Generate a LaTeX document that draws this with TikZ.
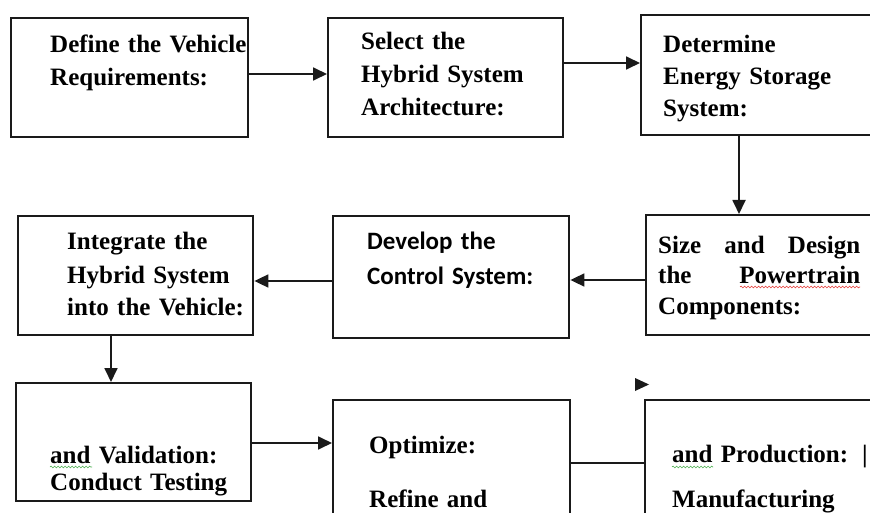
\documentclass[tikz,border=0pt]{standalone}
\usepackage{fontspec}
\setmainfont{Liberation Serif}
\newfontfamily\calibri{Carlito}
\usepackage{tikz}
\usetikzlibrary{arrows.meta, positioning, decorations.pathmorphing}
\definecolor{rahmen}{HTML}{1A1A1A}
\definecolor{wortgruen}{HTML}{4CAF50}
\definecolor{wortrot}{HTML}{E53935}

\begin{document}
\begin{tikzpicture}[x=1pt, y=-1pt,
    kasten/.style={draw=rahmen, line width=2.4pt, inner sep=0pt, anchor=north west},
    lbl/.style={anchor=base west, inner sep=0pt, text width=240pt, align=left,
                font=\fontsize{25}{#1}\selectfont\bfseries},
    lbl/.default=33,
    pfeil/.style={draw=rahmen, line width=1.8pt, -{Triangle[length=14pt, width=13pt]}},
    linie/.style={draw=rahmen, line width=1.8pt},
    welle/.style={draw=#1, line width=0.6pt, decorate,
                  decoration={snake, amplitude=0.9pt, segment length=3.5pt}}]

      % Rahmen des Bildes
      \path[use as bounding box, fill=white] (0,0) rectangle (870,513);
      \clip (0,0) rectangle (870,513);

      % Kaesten
      \foreach \n/\x/\y/\w/\h in {b1/10/17/237/119, b2/327/17/235/119, b3/640/14/260/120,
                                  b4/17/215/235/119, b5/332/215/236/122, b6/645/214/255/120,
                                  b7/15/382/235/118, b8/332/399/237/160, b9/644/399/256/160} {
        \node[kasten, minimum width=\w pt, minimum height=\h pt] (\n) at (\x,\y) {};
      }

      % Texte
      \node[lbl] (t1) at (50,53) {Define the Vehicle\\Requirements:};
      \node[lbl] (t2) at (361,50) {Select the\\Hybrid System\\Architecture:};
      \node[lbl=32] (t3) at (663,53) {Determine\\Energy Storage\\System:};
      \node[lbl] (t4) at (67,250) {Integrate the\\Hybrid System\\into the Vehicle:};
      \node[lbl, font=\calibri\fontsize{25}{35}\selectfont\bfseries] (t5) at (367,250)
        {Develop the\\Control System:};
      \node[lbl=31, text width=202pt] (t6) at (658,253)
        {Size\hfill and\hfill Design\\the\hfill Powertrain\\Components:};
      \node[lbl=27] (t7) at (50,463) {and Validation:\\Conduct Testing};
      \node[lbl=54] (t8) at (369,453) {Optimize:\\Refine and};
      \node[lbl=45] (t9) at (672,462) {and Production:\hspace{14pt}|\\Manufacturing};

      % Pfeile
      \draw[pfeil] (b1.east |- 0,74) -- (b2.west |- 0,74);
      \draw[pfeil] (b2.east |- 0,63) -- (b3.west |- 0,63);
      \draw[pfeil] (b3.south -| 739,0) -- (b6.north -| 739,0);
      \draw[pfeil] (b6.west |- 0,280) -- (b5.east |- 0,280);
      \draw[pfeil] (b5.west |- 0,281) -- (b4.east |- 0,281);
      \draw[pfeil] (b4.south -| 111,0) -- (b7.north -| 111,0);
      \draw[pfeil] (b7.east |- 0,443) -- (b8.west |- 0,443);
      \draw[linie] (b8.east |- 0,463) -- (b9.west |- 0,463);

      % einzelne Pfeilspitze
      \fill[rahmen] (635,378) -- (649,384.5) -- (635,391) -- cycle;

      % Wellenlinien der Rechtschreibpruefung
      \draw[welle=wortgruen] (50,467) -- (92,467);
      \draw[welle=wortrot] (740,287) -- (860,287);
      \draw[welle=wortgruen] (672,467) -- (713,467);
    \end{tikzpicture}
\end{document}
